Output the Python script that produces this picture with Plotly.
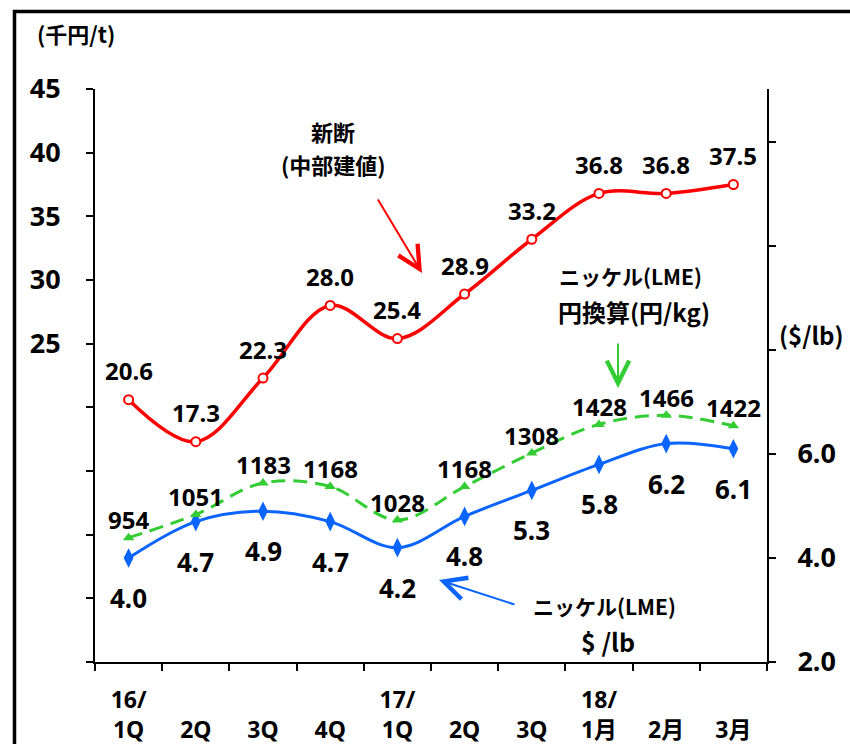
import plotly.graph_objects as go

# ---- data ----
periods = ["16/1Q", "16/2Q", "16/3Q", "16/4Q", "17/1Q", "17/2Q", "17/3Q", "18/1月", "18/2月", "18/3月"]
tick_labels = ["16/<br>1Q", " <br>2Q", " <br>3Q", " <br>4Q", "17/<br>1Q",
               " <br>2Q", " <br>3Q", "18/<br>1月", " <br>2月", " <br>3月"]
shindan = [20.6, 17.3, 22.3, 28.0, 25.4, 28.9, 33.2, 36.8, 36.8, 37.5]      # 千円/t
nickel_usd = [4.0, 4.7, 4.9, 4.7, 4.2, 4.8, 5.3, 5.8, 6.2, 6.1]              # $/lb
nickel_jpy = [954, 1051, 1183, 1168, 1028, 1168, 1308, 1428, 1466, 1422]     # 円/kg
left_tickvals = [0, 5, 10, 15, 20, 25, 30, 35, 40, 45]
left_ticktext = ["", "", "", "", "", "25", "30", "35", "40", "45"]
right_tickvals = [2, 4, 6, 8, 10, 12]
right_ticktext = ["2.0", "4.0", "6.0", "", "", ""]

W, H = 850, 744
L, R, T, B = 95, 767, 89, 662
FONT = "Noto Sans, Noto Sans CJK JP, sans-serif"
JFONT = "Noto Sans CJK JP, Noto Sans, sans-serif"
RED, BLUE, GREEN = "#FF0000", "#0A64FF", "#33CC33"

def px(x):
    return (x - L) / (R - L)

def py(y):
    return (B - y) / (B - T)

x = list(range(len(periods)))

fig = go.Figure()
fig.add_trace(go.Scatter(
    x=x, y=nickel_jpy, yaxis="y3", mode="lines+markers", line_shape="spline",
    line=dict(color=GREEN, width=3, dash="14px,8px"),
    marker=dict(symbol="triangle-up", size=10, color=GREEN), showlegend=False))
fig.add_trace(go.Scatter(
    x=x, y=nickel_usd, yaxis="y2", mode="lines+markers", line_shape="spline",
    line=dict(color=BLUE, width=3),
    marker=dict(symbol="diamond-tall", size=14, color=BLUE), showlegend=False))
fig.add_trace(go.Scatter(
    x=x, y=shindan, yaxis="y", mode="lines+markers", line_shape="spline",
    line=dict(color=RED, width=3.5),
    marker=dict(symbol="circle", size=9, color="white", line=dict(color=RED, width=2)),
    showlegend=False))

ann = []
for i in x:
    ann.append(dict(x=i, y=shindan[i], xref="x", yref="y", text=f"<b>{shindan[i]:.1f}</b>",
                    showarrow=False, yshift=29, font=dict(family=FONT, size=24, color="black")))
    ann.append(dict(x=i, y=nickel_usd[i], xref="x", yref="y2", text=f"<b>{nickel_usd[i]:.1f}</b>",
                    showarrow=False, yshift=-40, font=dict(family=FONT, size=26, color="black")))
    ann.append(dict(x=i, y=nickel_jpy[i], xref="x", yref="y3", text=f"<b>{nickel_jpy[i]}</b>",
                    showarrow=False, yshift=18, font=dict(family=FONT, size=24, color="black")))

def txt(t, xp, yp, size):
    return dict(x=px(xp), y=py(yp), xref="paper", yref="paper", text=f"<b>{t}</b>",
                showarrow=False, xanchor="center", yanchor="middle",
                font=dict(family=JFONT, size=size, color="black"))

ann += [
    txt("(千円/t)", 76, 33, 22),
    txt("新断", 333, 131, 22),
    txt("(中部建値)", 333, 164, 22),
    txt("ニッケル(LME)", 630, 276, 21),
    txt("円換算(円/kg)", 634, 311, 24),
    txt("($/lb)", 811, 334, 24),
    txt("ニッケル(LME)", 604, 606, 21),
    txt("$ /lb", 608, 641, 25),
]

def arrow(tx, ty, ax, ay, color):
    return dict(x=px(tx), y=py(ty), xref="paper", yref="paper", text="", showarrow=True,
                ax=ax, ay=ay, axref="pixel", ayref="pixel", arrowhead=5, arrowsize=2.2,
                arrowwidth=2, arrowcolor=color, standoff=0)

ann += [
    arrow(422, 273, -45, -75, RED),
    arrow(618, 388, 0, -46, GREEN),
    arrow(439, 580, 77, 25, BLUE),
]

shapes = [dict(type="path", xref="paper", yref="paper",
               path=f"M {px(14.5)},{py(800)} L {px(14.5)},{py(11.5)} L {px(900)},{py(11.5)}",
               line=dict(color="black", width=3.5))]

fig.update_layout(
    width=W, height=H, autosize=False,
    margin=dict(l=L, r=W - R, t=T, b=H - B, pad=0, autoexpand=False),
    paper_bgcolor="white", plot_bgcolor="white",
    showlegend=False,
    annotations=ann, shapes=shapes,
    xaxis=dict(range=[-0.5, 9.5], tickmode="array", tickvals=x, ticktext=tick_labels,
               ticks="", showgrid=False, zeroline=False, automargin=False,
               showline=True, linecolor="black", linewidth=2,
               tickfont=dict(family=FONT, size=23, color="black", weight="bold"),
               ticklabelstandoff=16,
               minor=dict(tick0=-0.5, dtick=1, ticks="outside", ticklen=7, tickwidth=2,
                          tickcolor="black", showgrid=False)),
    yaxis=dict(range=[0, 45], tickmode="array", tickvals=left_tickvals, ticktext=left_ticktext,
               ticks="outside", ticklen=7, tickwidth=2, tickcolor="black", automargin=False,
               showline=True, linecolor="black", linewidth=2,
               showgrid=False, zeroline=False, ticklabelstandoff=20,
               tickfont=dict(family=FONT, size=27, color="black", weight="bold")),
    yaxis2=dict(range=[2, 13.02], overlaying="y", side="right", tickmode="array",
                tickvals=right_tickvals, ticktext=right_ticktext, automargin=False,
                ticks="outside", ticklen=7, tickwidth=2, tickcolor="black",
                showline=True, linecolor="black", linewidth=2,
                showgrid=False, zeroline=False, ticklabelstandoff=16,
                tickfont=dict(family=FONT, size=27, color="black", weight="bold")),
    yaxis3=dict(range=[434, 2831], overlaying="y", visible=False),
)

fig.write_html("out.html", config={"displayModeBar": False},
               post_script="document.body.style.margin='0';")
